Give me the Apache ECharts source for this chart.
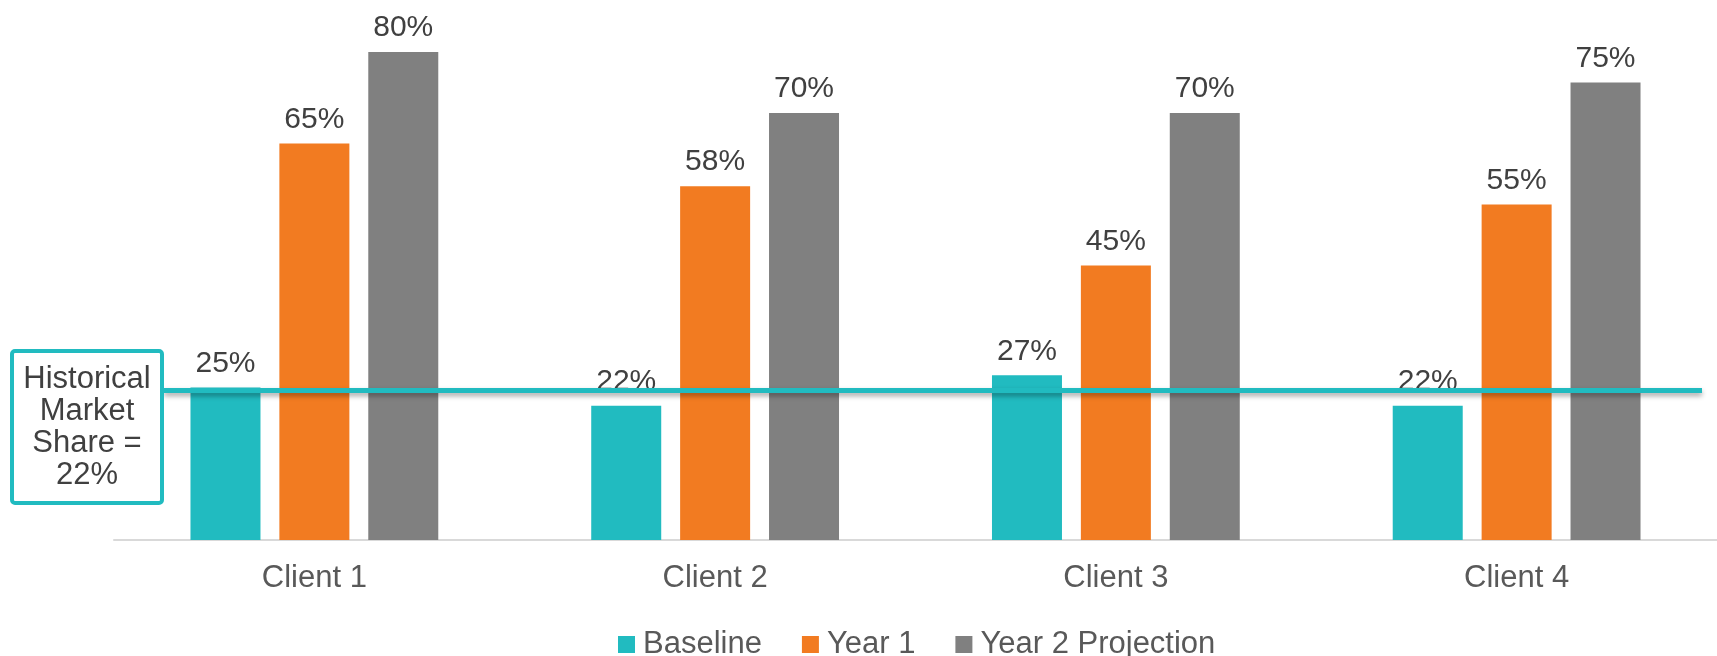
<!DOCTYPE html>
<html>
<head>
<meta charset="utf-8">
<script src="https://cdn.jsdelivr.net/npm/echarts@6/dist/echarts.min.js"></script>
<style>
  html, body { margin: 0; padding: 0; background: #ffffff; }
  #chart { width: 1717px; height: 656px; }
</style>
</head>
<body>
<div id="chart"></div>
<script>
const categories = ['Client 1', 'Client 2', 'Client 3', 'Client 4'];
const seriesNames = ['Baseline', 'Year 1', 'Year 2 Projection'];
const baseline = [25, 22, 27, 22];
const year1 = [65, 58, 45, 55];
const year2 = [80, 70, 70, 75];
const historicalLabel = 'Historical\nMarket\nShare =\n22%';
const historicalLineLevel = 24.5;

const TEAL = '#21BBC0';
const ORANGE = '#F27B21';
const GRAY = '#808080';
const FONT = '"Liberation Sans", Arial, sans-serif';

const chart = echarts.init(document.getElementById('chart'), null, { renderer: 'canvas' });

function barSeries(name, data, color) {
  return {
    name: name,
    type: 'bar',
    data: data,
    barWidth: 70,
    barGap: '27%',
    itemStyle: { color: color },
    label: {
      show: true,
      position: 'top',
      distance: 9,
      formatter: '{c}%',
      color: '#404040',
      fontSize: 30,
      fontFamily: FONT
    },
    emphasis: { disabled: true }
  };
}

const option = {
  animation: false,
  backgroundColor: '#ffffff',
  grid: { left: 114, right: -4, top: 52, bottom: 116, containLabel: false },
  legend: {
    data: seriesNames,
    left: 613,
    top: 624,
    itemWidth: 17,
    itemHeight: 17,
    itemGap: 40,
    icon: 'rect',
    textStyle: { color: '#595959', fontSize: 31, fontFamily: FONT, padding: [0, 0, 0, 3] }
  },
  xAxis: {
    type: 'category',
    data: categories,
    axisLine: { show: true, lineStyle: { color: '#D9D9D9', width: 2 } },
    axisTick: { show: false },
    axisLabel: { color: '#595959', fontSize: 31, fontFamily: FONT, margin: 23 }
  },
  yAxis: {
    type: 'value',
    min: 0,
    max: 80,
    show: false,
    splitLine: { show: false }
  },
  series: [
    barSeries(seriesNames[0], baseline, TEAL),
    barSeries(seriesNames[1], year1, ORANGE),
    barSeries(seriesNames[2], year2, GRAY)
  ]
};

chart.setOption(option);

const lineY = chart.convertToPixel({ yAxisIndex: 0 }, historicalLineLevel);

chart.setOption({
  graphic: [
    {
      type: 'line',
      z: 100,
      shape: { x1: 164, y1: lineY, x2: 1702, y2: lineY },
      style: {
        stroke: TEAL,
        lineWidth: 5,
        shadowBlur: 5,
        shadowOffsetY: 3,
        shadowColor: 'rgba(0,0,0,0.35)'
      }
    },
    {
      type: 'rect',
      z: 101,
      shape: { x: 12, y: 351, width: 150, height: 152, r: 3 },
      style: { fill: '#ffffff', stroke: TEAL, lineWidth: 4 }
    },
    {
      type: 'text',
      z: 102,
      x: 87,
      y: 427,
      style: {
        text: historicalLabel,
        fill: '#404040',
        fontSize: 31,
        fontFamily: FONT,
        lineHeight: 32,
        align: 'center',
        verticalAlign: 'middle'
      }
    }
  ]
});
</script>
</body>
</html>
